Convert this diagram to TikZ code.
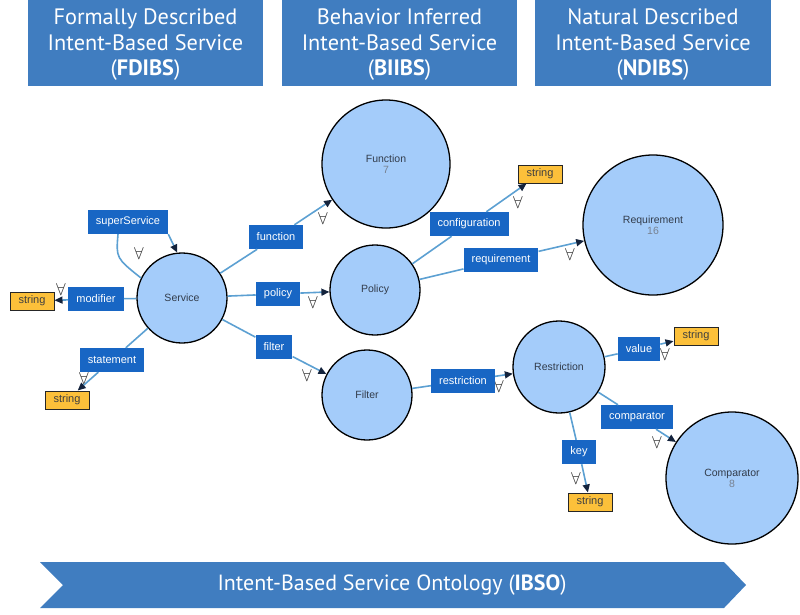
\documentclass[tikz,border=0pt]{standalone}
\usepackage{fontspec}
\setmainfont{Liberation Sans}
\newfontfamily\headfont{PT Sans}
\usetikzlibrary{arrows.meta,backgrounds}
\definecolor{hdr}{RGB}{64,125,192}
\definecolor{lblc}{RGB}{24,102,196}
\definecolor{circ}{RGB}{164,204,250}
\definecolor{edgec}{RGB}{92,160,210}
\definecolor{strc}{RGB}{252,192,58}
\definecolor{arr}{RGB}{20,35,60}
\definecolor{txt}{RGB}{50,60,75}
\definecolor{numc}{RGB}{120,130,145}
\tikzset{
  cls/.style={circle, draw=black, line width=1.3pt, fill=circ, inner sep=0pt, align=center,
    font=\fontsize{10.5}{12}\selectfont, text=txt},
  lbl/.style={fill=lblc, text=white, font=\fontsize{11}{12}\selectfont, minimum height=24pt,
    inner xsep=8pt, inner ysep=0pt},
  strng/.style={draw=black!85, line width=1pt, fill=strc, font=\fontsize{11}{12}\selectfont,
    text=black!75, minimum width=44pt, minimum height=18pt, inner sep=0pt},
  edg/.style={draw=edgec, line width=1.6pt},
  arw/.style={-{Triangle[length=8pt,width=7pt,color=arr]}},
  fa/.style={font=\fontsize{16}{16}\selectfont, text=black!80, inner sep=0pt},
  hdrbox/.style={text=white, minimum width=235pt, minimum height=86pt, align=center,
    font=\headfont\fontsize{22.3}{25.5}\selectfont, inner sep=0pt},
}
\begin{document}
\begin{tikzpicture}[x=1pt,y=-1pt]
\useasboundingbox (0,0) rectangle (800,614);
% headers
\fill[hdr] (28,0) rectangle (263,86);
\fill[hdr] (282,0) rectangle (517,86);
\fill[hdr] (535,0) rectangle (771,86);
\node[hdrbox] (h1) at (145.5,45) {Formally Described\\Intent-Based Service\\(\textbf{FDIBS})};
\node[hdrbox] (h2) at (399.5,45) {Behavior Inferred\\Intent-Based Service\\(\textbf{BIIBS})};
\node[hdrbox] (h3) at (653,45) {Natural Described\\Intent-Based Service\\(\textbf{NDIBS})};
% bottom chevron
\fill[hdr] (40,562) -- (724,562) -- (746,585) -- (724,608) -- (40,608) -- (63,585) -- cycle;
\node[text=white, font=\headfont\fontsize{22}{24}\selectfont] (ibso) at (392,585) {Intent-Based Service Ontology (\textbf{IBSO})};
% classes
\node[cls, minimum size=90pt] (Service) at (182,298) {Service};
\node[cls, minimum size=128pt] (Function) at (386,164) {Function\\[-1pt]{\color{numc}7}};
\node[cls, minimum size=90pt] (Policy) at (375,290) {Policy};
\node[cls, minimum size=140pt] (Requirement) at (653,225) {Requirement\\[-1pt]{\color{numc}16}};
\node[cls, minimum size=90pt] (Filter) at (367,395) {Filter};
\node[cls, minimum size=92pt] (Restriction) at (559,367) {Restriction};
\node[cls, minimum size=132pt] (Comparator) at (732,478) {Comparator\\[-1pt]{\color{numc}8}};
% strings
\node[strng] (s1) at (32,301) {string};
\node[strng] (s2) at (67,400) {string};
\node[strng] (s3) at (540,174) {string};
\node[strng] (s4) at (696,336) {string};
\node[strng] (s5) at (590,502) {string};
% labels
\node[lbl] (lsup) at (128,222) {superService};
\node[lbl] (lmod) at (96,299) {modifier};
\node[lbl] (lsta) at (112,360) {statement};
\node[lbl] (lfun) at (276,237) {function};
\node[lbl] (lpol) at (278,294) {policy};
\node[lbl] (lfil) at (274,347) {filter};
\node[lbl] (lcon) at (469,224) {configuration};
\node[lbl] (lreq) at (501,260) {requirement};
\node[lbl] (lres) at (463,381) {restriction};
\node[lbl] (lval) at (639,349) {value};
\node[lbl] (lcmp) at (637,417) {comparator};
\node[lbl] (lkey) at (579,452) {key};
% forall marks
\begin{scope}[on background layer]
\node[fa] (q1) at (139,253) {$\forall$};
\node[fa] (q2) at (61,289) {$\forall$};
\node[fa] (q3) at (84,378) {$\forall$};
\node[fa] (q4) at (323,218) {$\forall$};
\node[fa] (q5) at (313,302) {$\forall$};
\node[fa] (q6) at (307,375) {$\forall$};
\node[fa] (q7) at (518,202) {$\forall$};
\node[fa] (q8) at (570,254) {$\forall$};
\node[fa] (q9) at (499,386) {$\forall$};
\node[fa] (q10) at (665,354) {$\forall$};
\node[fa] (q11) at (657,442) {$\forall$};
\node[fa] (q12) at (576,478) {$\forall$};
\end{scope}
% edges
\draw[edg] (Service.154) .. controls (116,258) .. ([xshift=-10pt]lsup.south);
\draw[edg,arw] (lsup.south east) -- (Service.96);
\draw[edg] (Service) -- (lmod); \draw[edg,arw] (lmod) -- (s1);
\draw[edg] (Service) -- (lsta); \draw[edg,arw] (lsta) -- (s2);
\draw[edg] (Service) -- (lfun); \draw[edg,arw] (lfun) -- (Function);
\draw[edg] (Service) -- (lpol); \draw[edg,arw] (lpol) -- (Policy);
\draw[edg] (Service) -- (lfil); \draw[edg,arw] (lfil) -- (Filter);
\draw[edg] (Policy) -- (lcon); \draw[edg,arw] (lcon) -- (s3);
\draw[edg] (Policy) -- (lreq); \draw[edg,arw] (lreq) -- (Requirement);
\draw[edg] (Filter) -- (lres); \draw[edg,arw] (lres) -- (Restriction);
\draw[edg] (Restriction) -- (lval); \draw[edg,arw] (lval) -- (s4);
\draw[edg] (Restriction) -- (lcmp); \draw[edg,arw] (lcmp) -- (Comparator);
\draw[edg] (Restriction) -- (lkey); \draw[edg,arw] (lkey) -- (s5);
\end{tikzpicture}
\end{document}
